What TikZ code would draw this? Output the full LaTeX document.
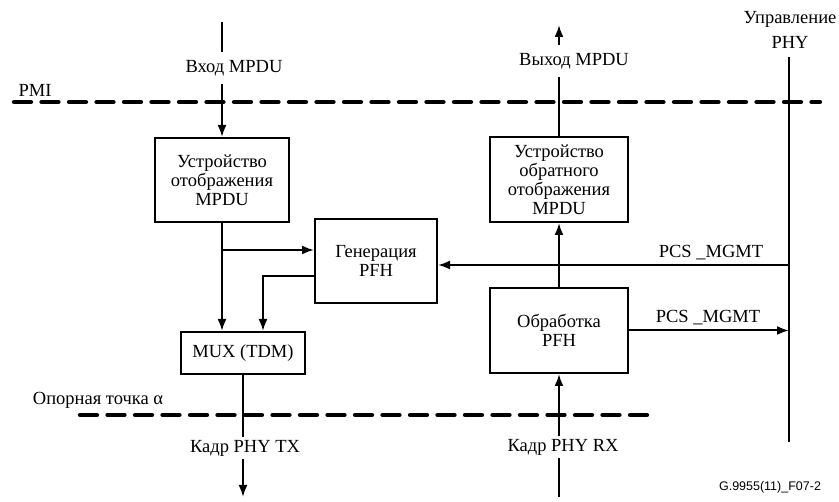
\documentclass[tikz,border=0pt]{standalone}
\usepackage{fontspec}
\setmainfont{Liberation Serif}
\newfontfamily\timesfont{Liberation Serif}
\newfontfamily\footfont{Liberation Sans}
\usetikzlibrary{arrows.meta, positioning, calc}

\begin{document}
\begin{tikzpicture}[
    x=1pt, y=-1pt,
    every node/.style={font=\timesfont\fontsize{18.5}{19}\selectfont},
    block/.style={rectangle, draw=black, line width=2pt, align=center, inner sep=0pt},
    lbl/.style={inner xsep=2pt, inner ysep=3pt},
    wire/.style={line width=2pt},
    arrow/.style={line width=2pt, -{Latex[length=12pt, width=9pt]}},
    refline/.style={line width=4.3pt, dash pattern=on 17pt off 10.5pt, line cap=round}
]
    \useasboundingbox (0,0) rectangle (839,502);

    % blocks
    \node[block, minimum width=134pt, minimum height=84pt] (map) at (222,180) {Устройство\\отображения\\MPDU};
    \node[block, minimum width=122pt, minimum height=84pt] (gen) at (376,261) {Генерация\\PFH};
    \node[block, minimum width=124pt, minimum height=42pt] (mux) at (243,353) {MUX (TDM)};
    \node[block, minimum width=138pt, minimum height=85pt] (demap) at (559,179.5) {Устройство\\обратного\\отображения\\MPDU};
    \node[block, minimum width=138pt, minimum height=85pt] (proc) at (559,330.5) {Обработка\\PFH};

    % free ends
    \coordinate (mpduin) at (222,22);
    \coordinate (mpduout) at (559,25);
    \coordinate (txout) at (243,497);
    \coordinate (rxin) at (559,497);
    \coordinate (mgmttop) at (789,57);
    \coordinate (mgmtbot) at (789,442);
    \coordinate (pcsin) at (789,265);
    \coordinate (split) at ($(map.south)+(0,27)$);

    % reference planes
    \coordinate (pmiL) at (14,102);
    \coordinate (pmiR) at (820,102);
    \coordinate (alphaL) at (80,415);
    \coordinate (alphaR) at (652,415);
    \draw[refline] (pmiL) -- (pmiR);
    \draw[refline] (alphaL) -- (alphaR);
    \node (pmi) at (35,90) {PMI};
    \node (alpha) at (98,400) {Опорная точка α};

    % labels
    \node[lbl, inner ysep=8pt] (inlbl) at (234,68) {Вход MPDU};
    \node[lbl, inner ysep=8pt] (outlbl) at (574,61) {Выход MPDU};
    \node[lbl] (txlbl) at (245,448) {Кадр PHY TX};
    \node[lbl] (rxlbl) at (563,447) {Кадр PHY RX};
    \node[align=center, font=\timesfont\fontsize{18.5}{25}\selectfont] (mgmt) at (790,30) {Управление\\PHY};
    \node (pcsup) at (711,253) {PCS \_MGMT};
    \node (pcsdn) at (708,318) {PCS \_MGMT};
    \node[font=\footfont\fontsize{12.5}{14}\selectfont] (fig) at (770,487) {G.9955(11)\_F07-2};

    % transmit side
    \draw[wire] (mpduin) -- (mpduin |- inlbl.north);
    \draw[arrow] (mpduin |- inlbl.south) -- (map.north);
    \draw[arrow] (map.south) -- (map.south |- mux.north);
    \draw[arrow] (split) -- (split -| gen.west);
    \draw[arrow] ($(gen.west)+(0,15)$) -| ($(mux.north)+(20,0)$);
    \draw[wire] (mux.south) -- (mux.south |- txlbl.north);
    \draw[arrow] (mux.south |- txlbl.south) -- (txout);

    % receive side
    \draw[wire] (rxin) -- (rxin |- rxlbl.south);
    \draw[arrow] (rxin |- rxlbl.north) -- (proc.south);
    \draw[arrow] (proc.north) -- (demap.south);
    \draw[wire] (demap.north) -- (demap.north |- outlbl.south);
    \draw[arrow] (demap.north |- outlbl.north) -- (mpduout);

    % management
    \draw[wire] (mgmttop) -- (mgmtbot);
    \draw[arrow] (pcsin) -- (pcsin -| gen.east);
    \draw[arrow] (proc.east) -- (proc.east -| mgmttop);

\end{tikzpicture}
\end{document}
